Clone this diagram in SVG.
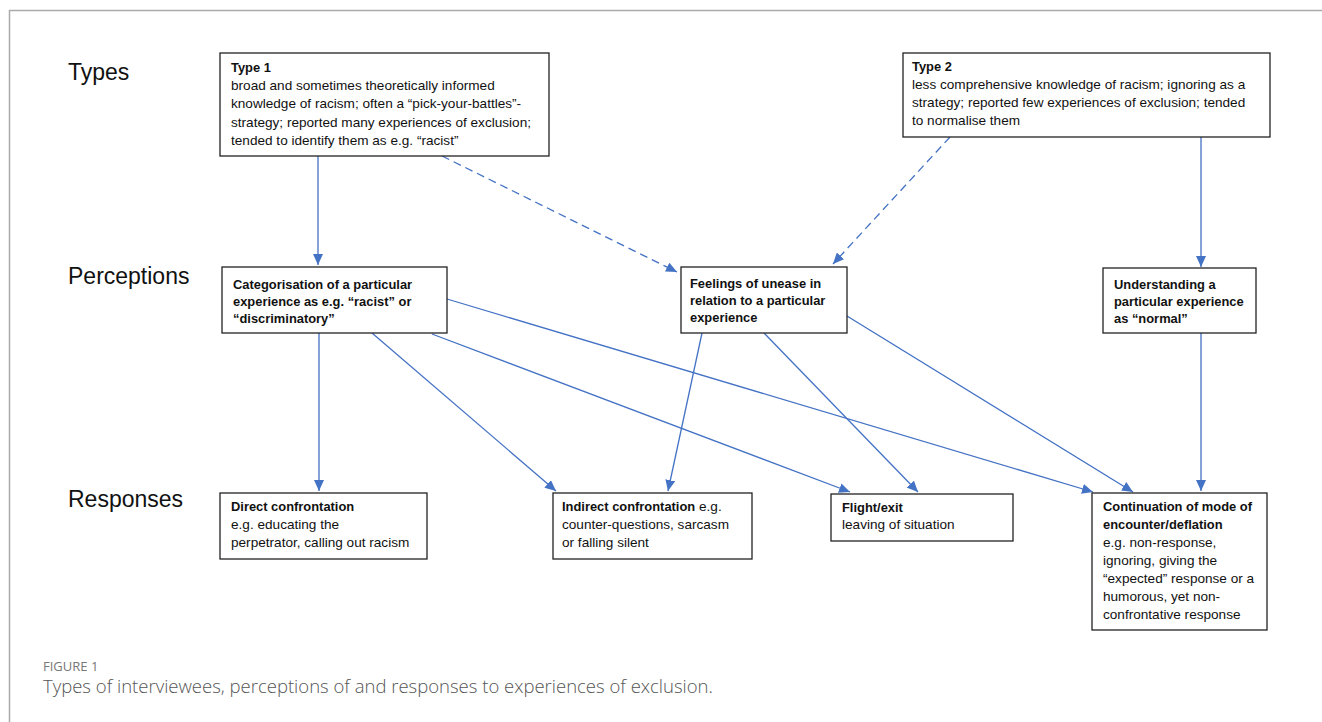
<svg xmlns="http://www.w3.org/2000/svg" width="1322" height="722" viewBox="0 0 1322 722">
<style>
.box{fill:#fff;stroke:#222;stroke-width:1.3}
.t{font-family:"Liberation Sans",Arial,sans-serif;font-size:13.6px;fill:#111}
.b{font-weight:bold;font-size:12.9px}
.lab{font-family:"Liberation Sans",Arial,sans-serif;font-size:23px;fill:#111}
.c{stroke:#4472C4;stroke-width:1.3;fill:none}
.d{stroke-dasharray:8 5}
.fig{font-family:"Open Sans",sans-serif;font-size:13px;fill:#777}
.cap{font-family:"Open Sans",sans-serif;font-size:18.5px;fill:#555;font-weight:300}
</style>
<defs>
<marker id="ah" markerUnits="userSpaceOnUse" markerWidth="12" markerHeight="10" refX="11" refY="5" orient="auto">
<path d="M0,0 L11,5 L0,10 z" fill="#4472C4"/>
</marker>
</defs>
<rect x="0" y="0" width="1322" height="722" fill="#fff"/>
<path d="M9.5,722 L9.5,10.5 L1322,10.5" fill="none" stroke="#aaa" stroke-width="1.5"/>
<g id="labels">
<text class="lab" x="68" y="80">Types</text>
<text class="lab" x="68" y="284">Perceptions</text>
<text class="lab" x="68" y="507">Responses</text>
</g>
<g id="connectors">
<path class="c" d="M318,156 L318,265" marker-end="url(#ah)"/>
<path class="c d" d="M442,156 L677,272" marker-end="url(#ah)"/>
<path class="c d" d="M950,137 L833,264" marker-end="url(#ah)"/>
<path class="c" d="M1201,137 L1201,267" marker-end="url(#ah)"/>
<path class="c" d="M319,333 L319,491" marker-end="url(#ah)"/>
<path class="c" d="M372,333 L556,491" marker-end="url(#ah)"/>
<path class="c" d="M432,334 L850,492" marker-end="url(#ah)"/>
<path class="c" d="M447,299 L1093,492" marker-end="url(#ah)"/>
<path class="c" d="M702,333 L668,491" marker-end="url(#ah)"/>
<path class="c" d="M764,333 L918,492" marker-end="url(#ah)"/>
<path class="c" d="M847,316 L1133,492" marker-end="url(#ah)"/>
<path class="c" d="M1201,333 L1201,491" marker-end="url(#ah)"/>
</g>
<g id="type1">
<rect class="box" x="220" y="53" width="329" height="103"/>
<text class="t b" x="231" y="72">Type 1</text>
<text class="t" x="231" y="90">broad and sometimes theoretically informed</text>
<text class="t" x="231" y="108">knowledge of racism; often a “pick-your-battles”-</text>
<text class="t" x="231" y="127">strategy; reported many experiences of exclusion;</text>
<text class="t" x="231" y="145">tended to identify them as e.g. “racist”</text>
</g>
<g id="type2">
<rect class="box" x="903" y="53" width="367" height="84"/>
<text class="t b" x="912" y="71">Type 2</text>
<text class="t" x="912" y="89">less comprehensive knowledge of racism; ignoring as a</text>
<text class="t" x="912" y="107">strategy; reported few experiences of exclusion; tended</text>
<text class="t" x="912" y="125">to normalise them</text>
</g>
<g id="categorisation">
<rect class="box" x="222" y="267" width="225" height="66"/>
<text class="t b" x="233" y="289">Categorisation of a particular</text>
<text class="t b" x="233" y="306">experience as e.g. “racist” or</text>
<text class="t b" x="233" y="323">“discriminatory”</text>
</g>
<g id="feelings">
<rect class="box" x="681" y="267" width="166" height="66"/>
<text class="t b" x="690" y="288">Feelings of unease in</text>
<text class="t b" x="690" y="305">relation to a particular</text>
<text class="t b" x="690" y="322">experience</text>
</g>
<g id="understanding">
<rect class="box" x="1103" y="268" width="153" height="65"/>
<text class="t b" x="1114" y="289">Understanding a</text>
<text class="t b" x="1114" y="306">particular experience</text>
<text class="t b" x="1114" y="323">as “normal”</text>
</g>
<g id="direct">
<rect class="box" x="220" y="493" width="207" height="66"/>
<text class="t b" x="231" y="511">Direct confrontation</text>
<text class="t" x="231" y="529">e.g.  educating the</text>
<text class="t" x="231" y="547">perpetrator, calling out racism</text>
</g>
<g id="indirect">
<rect class="box" x="553" y="493" width="199" height="66"/>
<text class="t" x="562" y="511"><tspan class="b">Indirect confrontation</tspan> e.g.</text>
<text class="t" x="562" y="529">counter-questions, sarcasm</text>
<text class="t" x="562" y="547">or falling silent</text>
</g>
<g id="flight">
<rect class="box" x="831" y="494" width="182" height="47"/>
<text class="t b" x="842" y="512">Flight/exit</text>
<text class="t" x="842" y="529">leaving of situation</text>
</g>
<g id="continuation">
<rect class="box" x="1092" y="493" width="175" height="137"/>
<text class="t b" x="1103" y="511">Continuation of mode of</text>
<text class="t b" x="1103" y="529">encounter/deflation</text>
<text class="t" x="1103" y="547">e.g.  non-response,</text>
<text class="t" x="1103" y="565">ignoring, giving the</text>
<text class="t" x="1103" y="583">“expected”  response or a</text>
<text class="t" x="1103" y="601">humorous, yet non-</text>
<text class="t" x="1103" y="619">confrontative response</text>
</g>
<g id="caption">
<text class="fig" x="43" y="671">FIGURE 1</text>
<text class="cap" x="43" y="693">Types of interviewees, perceptions of and responses to experiences of exclusion.</text>
</g>
</svg>
